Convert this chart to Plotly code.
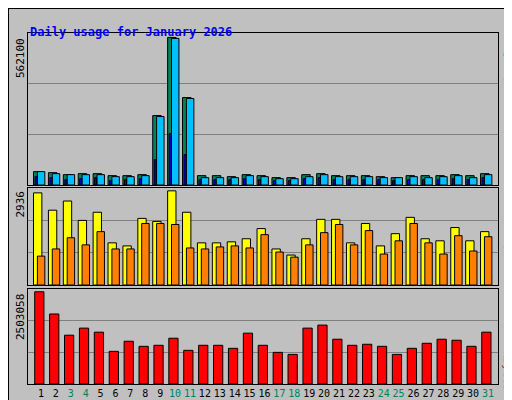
import plotly.graph_objects as go

days = list(range(1, 32))
day_labels = [str(d) for d in days]
weekend = {3, 4, 10, 11, 17, 18, 24, 25, 31}

hits_top = [490,493,499,496,496,502,502,499,322,88,268,502,502,505,499,502,508,508,499,496,502,502,502,505,508,502,502,502,499,502,496]
files_top = [490,496,499,499,499,505,505,502,325,91,271,508,508,508,502,505,511,511,505,499,505,505,505,508,508,505,508,505,502,508,499]
pages_top = [505,508,514,511,508,517,514,511,454,376,439,514,514,514,511,514,517,517,511,508,514,514,514,514,517,514,514,514,511,514,508]
hits = [round((530 - t) * 562100 / 442) for t in hits_top]
files = [round((530 - t) * 562100 / 442) for t in files_top]
pages = [round((530 - t) * 562100 / 442) for t in pages_top]

visits_top = [34,85,58,115,91,181,190,109,118,28,91,181,181,178,169,139,199,217,169,112,112,181,124,190,154,106,169,175,136,175,148]
sites_top = [220,199,166,187,148,199,199,124,124,127,196,199,193,190,196,157,208,223,187,151,127,187,145,214,175,124,181,214,160,205,163]
visits = [round((305 - t) * 2936 / 277) for t in visits_top]
sites = [round((305 - t) * 2936 / 277) for t in sites_top]

kb_top = [328,394,457,436,448,505,475,490,487,466,502,487,487,496,451,487,508,514,436,427,469,487,484,490,514,496,481,469,472,490,448]
kbytes = [round((602 - t) * 2503058 / 274) for t in kb_top]

max_hits = max(hits); max_visits = max(visits); max_kb = max(kbytes)

fig = go.Figure()
line = dict(color="black", width=1)
def bar(y, color, off, w, ax):
    fig.add_trace(go.Bar(x=days, y=y, marker=dict(color=color, line=line),
                         offset=off, width=w, xaxis=ax[0], yaxis=ax[1], showlegend=False))

bar(hits, "#00805c", -0.5, 0.57, ("x", "y"))
bar(files, "#00c0ff", -0.24, 0.5, ("x", "y"))
bar(pages, "#0000ff", -0.4, 0.14, ("x", "y"))
bar(visits, "#ffff00", -0.5, 0.56, ("x2", "y2"))
bar(sites, "#ff8000", -0.24, 0.5, ("x2", "y2"))
bar(kbytes, "#ff0000", -0.42, 0.62, ("x3", "y3"))

W, H = 512, 400
L, R = 20, 490
def dom(top, bot):
    return [1 - bot / H, 1 - top / H]

ticktext = [f"<span style='color:#00805c'>{d}</span>" if d in weekend else d_ for d, d_ in zip(days, day_labels)]
xcommon = dict(range=[0.13, 31.67], showgrid=False, zeroline=False, showline=True,
               linecolor="black", mirror=True, fixedrange=True, automargin=False)
ycommon = dict(showgrid=True, gridcolor="#808080", zeroline=False, showline=True,
               linecolor="black", mirror=True, showticklabels=False, ticks="", automargin=False)

fig.update_layout(
    width=W, height=H, margin=dict(l=0, r=0, t=0, b=0, autoexpand=False),
    paper_bgcolor="#c0c0c0", plot_bgcolor="#c0c0c0", barmode="overlay",
    font=dict(family="DejaVu Sans Mono", size=11, color="black"),
    xaxis=dict(xcommon, domain=[L / W, R / W], anchor="y", showticklabels=False),
    xaxis2=dict(xcommon, domain=[L / W, R / W], anchor="y2", showticklabels=False),
    xaxis3=dict(xcommon, domain=[L / W, R / W], anchor="y3", tickmode="array",
                tickvals=days, ticktext=ticktext, ticks="", tickangle=0,
                tickfont=dict(size=10, family="DejaVu Sans Mono")),
    yaxis=dict(ycommon, domain=dom(25, 177), range=[0, max_hits * 1.03], dtick=max_hits * 1.03 / 3),
    yaxis2=dict(ycommon, domain=dom(180, 277), range=[0, max_visits * 1.03], dtick=max_visits * 1.03 / 3),
    yaxis3=dict(ycommon, domain=dom(281, 376), range=[0, max_kb * 1.03], dtick=max_kb * 1.03 / 3),
    shapes=[dict(type="rect", xref="paper", yref="paper", x0=0, y0=0, x1=1, y1=1,
                 line=dict(color="black", width=2), fillcolor="rgba(0,0,0,0)")],
)

ann = [
    dict(x=20, y=15, text="<b>Daily usage for January 2026</b>", xanchor="left",
         font=dict(color="#0000ff", size=12, family="DejaVu Sans Mono")),
    dict(x=12, y=28, text=str(max_hits), textangle=-90, yanchor="top"),
    dict(x=12, y=181, text=str(max_visits), textangle=-90, yanchor="top"),
    dict(x=12, y=284, text=str(max_kb), textangle=-90, yanchor="top"),
    dict(x=500, y=28, textangle=90, yanchor="top",
         text="<span style='color:#00c0ff'>Pages</span> / <span style='color:#0000ff'>Files</span> / <span style='color:#00805c'>Hits</span>"),
    dict(x=500, y=196, textangle=90, yanchor="top",
         text="<span style='color:#ff8000'>Sites</span> / <span style='color:#ffff00'>Visits</span>"),
    dict(x=500, y=341, textangle=90, yanchor="top",
         text="<span style='color:#ff0000'>KBytes</span>"),
]
for a in ann:
    x, y = a.pop("x"), a.pop("y")
    a.setdefault("xanchor", "center")
    fig.add_annotation(x=x / W, y=1 - y / H, xref="paper", yref="paper", showarrow=False, **a)

fig.write_html("out.html")
